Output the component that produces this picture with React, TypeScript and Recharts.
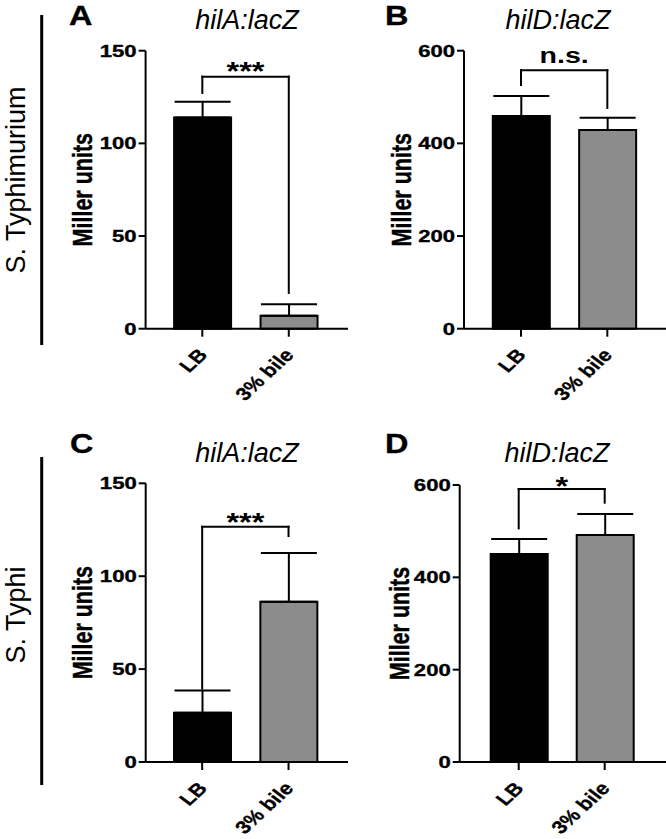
import React from 'react';
import { BarChart, Bar, XAxis, YAxis, Cell, ErrorBar, ReferenceLine } from 'recharts';

// conditions on the x axis
const conditions = ['LB', '3% bile'];

// mean Miller units per condition, with upper error (SD) per condition
const typhimuriumHilA = [114, 7];
const typhimuriumHilAErr = [8.5, 6.2];
const typhimuriumHilD = [459, 429];
const typhimuriumHilDErr = [43, 26.5];
const typhiHilA = [26.5, 86.3];
const typhiHilAErr = [12, 26.2];
const typhiHilD = [450.5, 491.7];
const typhiHilDErr = [32.5, 45.3];

const ticksHilA = [0, 50, 100, 150];
const ticksHilD = [0, 200, 400, 600];

// significance brackets: bracket height, leg ends (LB, bile), label
const bracketA = { y: 136, legs: [127.2, 19.3], text: '***' };
const bracketB = { y: 558, legs: [526, 476.5], text: 'n.s.' };
const bracketC = { y: 126.6, legs: [39.5, 121.6], text: '***' };
const bracketD = { y: 591.3, legs: [506, 561.7], text: '*' };

const barColors = ['#000000', '#8c8c8c'];
const FONT = '"Liberation Sans", Arial, Helvetica, sans-serif';
const SX = 1.3;
const HEAVY = { stroke: '#000', strokeWidth: 0.35 };

const YTick = (props: any) => {
  const { x, y, payload } = props;
  return (
    <text transform={`translate(${x},${y}) scale(${SX},1)`} textAnchor="end" dominantBaseline="central"
      fontFamily={FONT} fontSize={17} fontWeight="bold" fill="#000" {...HEAVY}>
      {payload.value}
    </text>
  );
};

const XTick = (props: any) => {
  const { x, y, payload } = props;
  return (
    <text transform={`translate(${x + 6},${y + 17}) scale(1.2,1) rotate(-48)`} textAnchor="end"
      fontFamily={FONT} fontSize={18} fontWeight="bold" fill="#000" {...HEAVY}>
      {payload.value}
    </text>
  );
};

type Cfg = {
  left: number; top: number; width: number; height: number;
  yWidth: number; mTop: number; mBottom: number; xHeight: number;
  padL: number; padR: number; max: number; ticks: number[];
  values: number[]; errs: number[];
  bracket: { y: number; legs: number[]; text: string };
  sigSize: number; sigDy: number; labelX: number;
};

const panels: Cfg[] = [
  { left: 0, top: 0, width: 348, height: 420, yWidth: 145.6, mTop: 50.7, mBottom: 11.3, xHeight: 80,
    padL: 13.5, padR: 16, max: 150, ticks: ticksHilA, values: typhimuriumHilA, errs: typhimuriumHilAErr,
    bracket: bracketA, sigSize: 25, sigDy: 3, labelX: 82 },
  { left: 333, top: 0, width: 333, height: 420, yWidth: 131, mTop: 50.7, mBottom: 11.3, xHeight: 80,
    padL: 13.8, padR: 15.5, max: 600, ticks: ticksHilD, values: typhimuriumHilD, errs: typhimuriumHilDErr,
    bracket: bracketB, sigSize: 22, sigDy: -7, labelX: 68 },
  { left: 0, top: 420, width: 348, height: 419, yWidth: 145.7, mTop: 63.3, mBottom: 7, xHeight: 70,
    padL: 13.3, padR: 16.3, max: 150, ticks: ticksHilA, values: typhiHilA, errs: typhiHilAErr,
    bracket: bracketC, sigSize: 25, sigDy: 4.7, labelX: 82 },
  { left: 333, top: 420, width: 333, height: 419, yWidth: 126.7, mTop: 65, mBottom: 7, xHeight: 70,
    padL: 16, padR: 18.3, max: 600, ticks: ticksHilD, values: typhiHilD, errs: typhiHilDErr,
    bracket: bracketD, sigSize: 25, sigDy: 5.7, labelX: 66 },
];

function Panel({ cfg }: { cfg: Cfg }) {
  const data = conditions.map((name, i) => ({ name, value: cfg.values[i], err: [0, cfg.errs[i]] }));
  const b = cfg.bracket;
  const line = { stroke: '#000', strokeWidth: 2 };
  return (
    <div style={{ position: 'absolute', left: cfg.left, top: cfg.top }}>
      <BarChart width={cfg.width} height={cfg.height} data={data}
        margin={{ top: cfg.mTop, right: 0, bottom: cfg.mBottom, left: 0 }}>
        <XAxis dataKey="name" type="category" interval={0} height={cfg.xHeight} tickSize={8}
          padding={{ left: cfg.padL, right: cfg.padR }} axisLine={line} tickLine={line} tick={<XTick />} />
        <YAxis width={cfg.yWidth} domain={[0, cfg.max]} ticks={cfg.ticks} interval={0} tickSize={7}
          axisLine={line} tickLine={line} tick={<YTick />}
          label={{
            content: (p: any) => {
              const vb = p.viewBox || {};
              const cy = vb.y + vb.height / 2;
              return (
                <text transform={`translate(${cfg.labelX},${cy}) scale(${SX},1) rotate(-90)`} textAnchor="middle"
                  dominantBaseline="central" fontFamily={FONT} fontSize={21.5} fontWeight="bold" fill="#000" {...HEAVY}>
                  Miller units
                </text>
              );
            },
          }} />
        <Bar dataKey="value" barSize={57} stroke="#000" strokeWidth={2} isAnimationActive={false}>
          {data.map((d, i) => (
            <Cell key={d.name} fill={barColors[i]} />
          ))}
          <ErrorBar dataKey="err" direction="y" width={28} stroke="#000" strokeWidth={2} isAnimationActive={false} />
        </Bar>
        <ReferenceLine segment={[{ x: conditions[0], y: b.y }, { x: conditions[1], y: b.y }]}
          stroke="#000" strokeWidth={2} strokeLinecap="square"
          label={{
            content: (p: any) => {
              const vb = p.viewBox || {};
              return (
                <text transform={`translate(${vb.x + vb.width / 2},${vb.y + cfg.sigDy}) scale(${SX},1)`}
                  textAnchor="middle" fontFamily={FONT} fontSize={cfg.sigSize} fontWeight="bold" fill="#000">
                  {b.text}
                </text>
              );
            },
          }} />
        <ReferenceLine segment={[{ x: conditions[0], y: b.legs[0] }, { x: conditions[0], y: b.y }]}
          stroke="#000" strokeWidth={2} strokeLinecap="square" />
        <ReferenceLine segment={[{ x: conditions[1], y: b.legs[1] }, { x: conditions[1], y: b.y }]}
          stroke="#000" strokeWidth={2} strokeLinecap="square" />
      </BarChart>
    </div>
  );
}

export default function App() {
  return (
    <div style={{ position: 'absolute', left: 0, top: 0, width: 666, height: 839, background: '#fff' }}>
      {panels.map((cfg, i) => (
        <Panel key={i} cfg={cfg} />
      ))}
      <svg width={666} height={839} style={{ position: 'absolute', left: 0, top: 0, pointerEvents: 'none' }}>
        {/* strain labels with bars */}
        <line x1={41.7} y1={15} x2={41.7} y2={345} stroke="#000" strokeWidth={3} />
        <line x1={41.7} y1={457} x2={41.7} y2={785} stroke="#000" strokeWidth={3} />
        <text transform="translate(16,180) rotate(-90)" textAnchor="middle" dominantBaseline="central"
          fontFamily={FONT} fontSize={27} fill="#000">S. Typhimurium</text>
        <text transform="translate(16,615) rotate(-90)" textAnchor="middle" dominantBaseline="central"
          fontFamily={FONT} fontSize={27} fill="#000">S. Typhi</text>

        {/* panel letters */}
        {[['A', 69, 25], ['B', 385, 25], ['C', 70, 453], ['D', 385, 453]].map(([t, x, y]) => (
          <text key={t as string} transform={`translate(${x},${y}) scale(1.2,1)`} fontFamily={FONT}
            fontSize={27} fontWeight="bold" fill="#000" {...HEAVY}>{t}</text>
        ))}

        {/* panel titles */}
        {[['hilA:lacZ', 247, 29], ['hilD:lacZ', 558, 29], ['hilA:lacZ', 247, 462], ['hilD:lacZ', 557, 462]].map(([t, x, y], i) => (
          <text key={i} x={x as number} y={y as number} textAnchor="middle" fontFamily={FONT}
            fontSize={27} fontStyle="italic" fill="#000">{t}</text>
        ))}
      </svg>
    </div>
  );
}
